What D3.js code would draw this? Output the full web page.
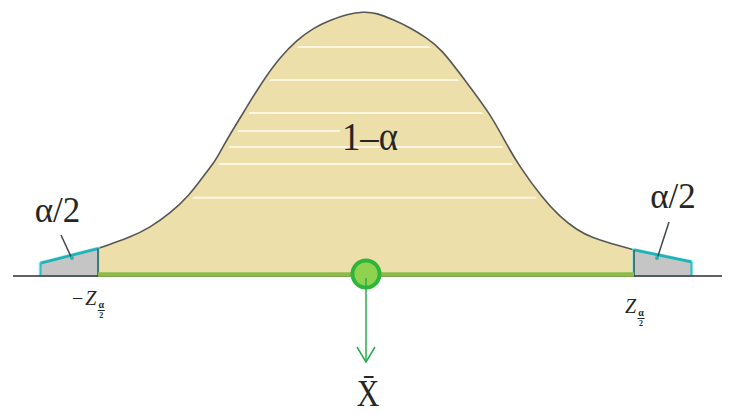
<!DOCTYPE html>
<html>
<head>
<meta charset="utf-8">
<script src="https://cdn.jsdelivr.net/npm/d3@7"></script>
<style>
  html, body { margin: 0; padding: 0; background: #fff; }
  svg { display: block; }
</style>
</head>
<body>
<svg id="chart" width="733" height="414"></svg>
<script>
// Sampling distribution of the sample mean with a two-sided confidence region.
// Standardized position along the axis and the density of the curve there.
const zValues = [-2.38, -1.96, -1.87, -1.726, -1.58, -1.433, -1.287, -1.192, -1.104, -1.053,
                 -0.98, -0.90, -0.753, -0.629, -0.505, -0.388, -0.263, -0.139, -0.02, 0.08,
                 0.197, 0.322, 0.446, 0.549, 0.724, 0.907, 1.039, 1.112, 1.287, 1.419,
                 1.543, 1.660, 1.785, 1.96, 2.38];
const density = [0.018, 0.040, 0.047, 0.057, 0.072, 0.093, 0.122, 0.149, 0.172, 0.192,
                 0.218, 0.245, 0.295, 0.330, 0.356, 0.374, 0.386, 0.395, 0.399, 0.397,
                 0.387, 0.375, 0.359, 0.343, 0.295, 0.245, 0.194, 0.168, 0.117, 0.088,
                 0.068, 0.056, 0.048, 0.038, 0.020];

// Critical value bounding the central region
const critZ = 1.96;

// Density levels of the light hatch lines inside the central region
const stripeLevels = [0.3455, 0.2955, 0.2455, 0.194, 0.168, 0.117];
const shortStripe = { level: 0.218, zMax: -0.19 };

// Labels
const tailLabel = "α/2";
const centerLabel = "1–α";
const critLabel = "Z";
const minusSign = "−";
const fracTop = "α";
const fracBottom = "2";
const meanLabel = "X̄";

const svg = d3.select("#chart");
const x = d3.scaleLinear().domain([-critZ, critZ]).range([98, 634]);
const y = d3.scaleLinear().domain([0, 0.4]).range([275, 11]);

const pts = zValues.map((z, i) => ({ z, d: density[i] }));
const eps = 1e-9;
const inner = pts.filter(p => Math.abs(p.z) <= critZ + eps);
const leftTail = pts.filter(p => p.z <= -critZ + eps);
const rightTail = pts.filter(p => p.z >= critZ - eps);

const area = d3.area()
  .x(p => x(p.z)).y0(y(0)).y1(p => y(p.d))
  .curve(d3.curveBasis);
const line = d3.line()
  .x(p => x(p.z)).y(p => y(p.d))
  .curve(d3.curveBasis);

const serif = "'Liberation Serif', 'DejaVu Serif', serif";
const fill = "#ecdfa9";
const ink = "#262626";

// Clip region = central area under the curve
svg.append("defs").append("clipPath").attr("id", "body")
  .append("path").attr("d", area(inner));

// Central region
svg.append("path").attr("d", area(inner)).attr("fill", fill);

const stripes = svg.append("g").attr("clip-path", "url(#body)");
stripes.selectAll("line.stripe").data(stripeLevels).join("line")
  .attr("class", "stripe")
  .attr("x1", x(-critZ)).attr("x2", x(critZ))
  .attr("y1", d => y(d)).attr("y2", d => y(d))
  .attr("stroke", "#fbf6e3").attr("stroke-width", 2);
stripes.append("line")
  .attr("x1", x(-critZ)).attr("x2", x(shortStripe.zMax))
  .attr("y1", y(shortStripe.level)).attr("y2", y(shortStripe.level))
  .attr("stroke", "#fbf6e3").attr("stroke-width", 2);
// keep a plain margin between the hatch lines and the outline
stripes.append("path").attr("d", line(inner))
  .attr("fill", "none").attr("stroke", fill).attr("stroke-width", 10);

// Curve outline over the central region
svg.append("path").attr("d", line(inner))
  .attr("fill", "none").attr("stroke", "#575757").attr("stroke-width", 1.6);

// Rejection tails
function drawTail(data, outerZ, innerZ) {
  const g = svg.append("g");
  g.append("path").attr("d", area(data))
    .attr("fill", "none").attr("stroke", "#8fe6ec").attr("stroke-width", 4).attr("opacity", 0.6);
  g.append("path").attr("d", area(data)).attr("fill", "#c5c5c5");
  g.append("path").attr("d", line(data))
    .attr("fill", "none").attr("stroke", "#1fb3b6").attr("stroke-width", 2.8);
  const outer = data.find(p => p.z === outerZ);
  const innerPt = data.find(p => p.z === innerZ);
  g.append("line")
    .attr("x1", x(outerZ)).attr("x2", x(outerZ))
    .attr("y1", y(0)).attr("y2", y(outer.d))
    .attr("stroke", "#27c2c6").attr("stroke-width", 2);
  g.append("line")
    .attr("x1", x(innerZ)).attr("x2", x(innerZ))
    .attr("y1", y(0) + 1).attr("y2", y(innerPt.d))
    .attr("stroke", "#1c6468").attr("stroke-width", 1.6);
}
drawTail(leftTail, zValues[0], -critZ);
drawTail(rightTail, zValues[zValues.length - 1], critZ);

// Horizontal axis line
svg.append("line")
  .attr("x1", 13).attr("x2", 722)
  .attr("y1", 276).attr("y2", 276)
  .attr("stroke", "#2b2b2b").attr("stroke-width", 1.3);

// Central interval along the axis
svg.append("line")
  .attr("x1", x(-critZ)).attr("x2", x(critZ))
  .attr("y1", 274.5).attr("y2", 274.5)
  .attr("stroke", "#8dbb4b").attr("stroke-width", 4.5);

// Leader lines for the tail labels
function leader(x1, y1, x2, y2) {
  svg.append("line")
    .attr("x1", x1).attr("y1", y1).attr("x2", x2).attr("y2", y2)
    .attr("stroke", "#3d4a4c").attr("stroke-width", 1.5);
  svg.append("circle").attr("cx", x2).attr("cy", y2 - 1).attr("r", 2)
    .attr("fill", "#22b7b4");
}
leader(61, 235, 72, 259);
leader(669, 222, 657, 259);

// Sample mean marker and arrow
const cx = x(0.0), cy = 274;
svg.append("circle").attr("cx", cx).attr("cy", cy).attr("r", 13.5)
  .attr("fill", "#8fd24f").attr("stroke", "#2fb63a").attr("stroke-width", 4);
const arrowColor = "#27ad4b";
svg.append("line")
  .attr("x1", cx).attr("x2", cx).attr("y1", cy + 4).attr("y2", 362)
  .attr("stroke", arrowColor).attr("stroke-width", 1.5);
svg.append("path")
  .attr("d", `M${cx - 9},${347} L${cx},${362} L${cx + 9},${347}`)
  .attr("fill", "none").attr("stroke", arrowColor).attr("stroke-width", 1.5);

// Text labels
svg.append("text").attr("x", 57.5).attr("y", 222)
  .attr("text-anchor", "middle").attr("font-family", serif).attr("font-size", 35)
  .attr("fill", ink).text(tailLabel);
svg.append("text").attr("x", 673).attr("y", 208)
  .attr("text-anchor", "middle").attr("font-family", serif).attr("font-size", 35)
  .attr("fill", ink).text(tailLabel);

svg.append("text").attr("x", 342).attr("y", 150)
  .attr("font-family", serif).attr("font-size", 41)
  .attr("textLength", 56).attr("lengthAdjust", "spacingAndGlyphs")
  .attr("fill", ink).text(centerLabel);

function critValue(xStart, baseY, withMinus) {
  const t = svg.append("text").attr("x", xStart).attr("y", baseY)
    .attr("font-family", serif).attr("font-size", 20).attr("fill", ink);
  if (withMinus) t.append("tspan").text(minusSign);
  t.append("tspan").attr("dx", withMinus ? 2 : 0).attr("font-style", "italic").text(critLabel);
  const box = t.node().getBBox();
  const fx = box.x + box.width + 4;
  svg.append("text").attr("x", fx).attr("y", baseY + 3)
    .attr("text-anchor", "middle").attr("font-family", serif).attr("font-size", 10)
    .attr("font-weight", "bold").attr("fill", ink).text(fracTop);
  svg.append("line").attr("x1", fx - 3.5).attr("x2", fx + 3.5)
    .attr("y1", baseY + 5.5).attr("y2", baseY + 5.5)
    .attr("stroke", ink).attr("stroke-width", 1);
  svg.append("text").attr("x", fx).attr("y", baseY + 13)
    .attr("text-anchor", "middle").attr("font-family", serif).attr("font-size", 8)
    .attr("font-weight", "bold").attr("fill", ink).text(fracBottom);
}
critValue(72, 305, true);
critValue(625, 313, false);

svg.append("text")
  .attr("transform", `translate(${cx + 2},405.5) scale(0.82,1)`)
  .attr("text-anchor", "middle").attr("font-family", serif).attr("font-size", 38)
  .attr("fill", ink).text(meanLabel);
</script>
</body>
</html>
